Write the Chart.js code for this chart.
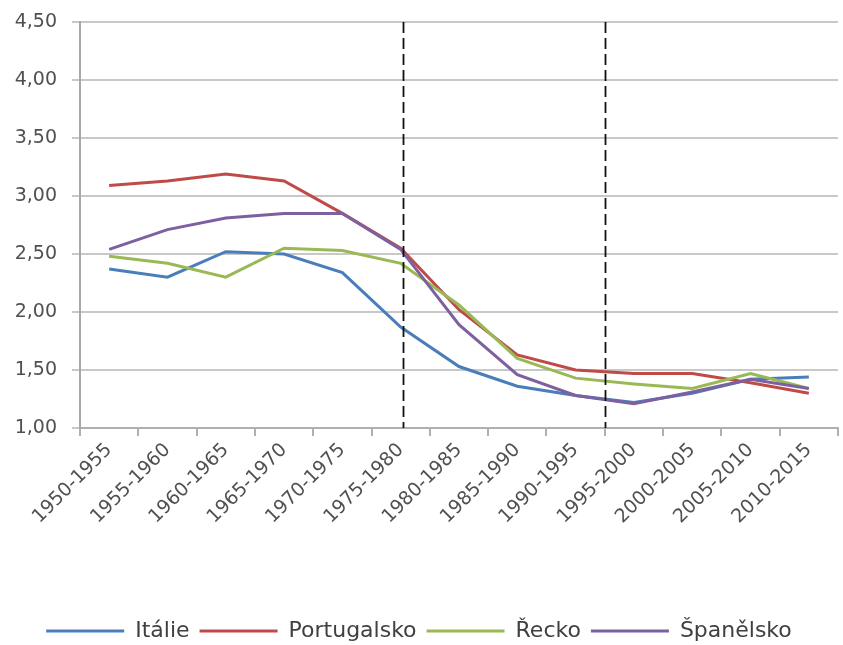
<!DOCTYPE html>
<html>
<head>
<meta charset="utf-8">
<script src="https://cdn.jsdelivr.net/npm/chart.js@4.4.1/dist/chart.umd.min.js"></script>
<style>
  html, body { margin: 0; padding: 0; background: #ffffff; }
  #wrap { width: 843px; height: 645px; }
</style>
</head>
<body>
<div id="wrap"><canvas id="c" width="843" height="645"></canvas></div>
<script>
const categories = ['1950-1955','1955-1960','1960-1965','1965-1970','1970-1975','1975-1980','1980-1985','1985-1990','1990-1995','1995-2000','2000-2005','2005-2010','2010-2015'];
const italie      = [2.37, 2.30, 2.52, 2.50, 2.34, 1.87, 1.53, 1.36, 1.28, 1.22, 1.30, 1.42, 1.44];
const portugalsko = [3.09, 3.13, 3.19, 3.13, 2.85, 2.55, 2.02, 1.63, 1.50, 1.47, 1.47, 1.39, 1.30];
const recko       = [2.48, 2.42, 2.30, 2.55, 2.53, 2.42, 2.06, 1.60, 1.43, 1.38, 1.34, 1.47, 1.34];
const spanelsko   = [2.54, 2.71, 2.81, 2.85, 2.85, 2.54, 1.89, 1.46, 1.28, 1.21, 1.31, 1.42, 1.34];
const seriesNames = ['Itálie', 'Portugalsko', 'Řecko', 'Španělsko'];
const yTicks = [1.00, 1.50, 2.00, 2.50, 3.00, 3.50, 4.00, 4.50];
const dividerPositions = [5.04, 8.5];

const colors = ['#4A7EBB', '#BE4B48', '#98B954', '#7D60A0'];
const FONT = "'DejaVu Sans', 'Open Sans', sans-serif";

const dividerPlugin = {
  id: 'dividers',
  afterDatasetsDraw(chart) {
    const x = chart.scales.x, area = chart.chartArea, ctx = chart.ctx;
    ctx.save();
    ctx.strokeStyle = '#111111';
    ctx.lineWidth = 1.8;
    ctx.setLineDash([11, 5]);
    dividerPositions.forEach(p => {
      const px = Math.round(x.getPixelForValue(p)) + 0.5;
      ctx.beginPath();
      ctx.moveTo(px, area.top);
      ctx.lineTo(px, area.bottom);
      ctx.stroke();
    });
    ctx.restore();
  }
};

const allSeries = [italie, portugalsko, recko, spanelsko];
const datasets = allSeries.map((d, i) => ({
  label: seriesNames[i],
  data: d,
  borderColor: colors[i],
  backgroundColor: colors[i],
  borderWidth: 3,
  pointRadius: 0,
  tension: 0,
  fill: false,
  order: allSeries.length - i
}));

new Chart(document.getElementById('c'), {
  type: 'line',
  data: { labels: categories, datasets },
  plugins: [dividerPlugin],
  options: {
    responsive: false,
    animation: false,
    devicePixelRatio: 1,
    layout: { padding: { top: 22, right: 5, left: 0, bottom: -7 } },
    plugins: {
      tooltip: { enabled: false },
      legend: {
        position: 'bottom',
        labels: {
          usePointStyle: true,
          pointStyle: 'line',
          pointStyleWidth: 78,
          boxWidth: 78,
          padding: 10,
          color: '#404040',
          font: { family: FONT, size: 22 },
          sort: (a, b) => a.datasetIndex - b.datasetIndex
        }
      }
    },
    scales: {
      x: {
        type: 'category',
        offset: true,
        grid: { offset: true, drawOnChartArea: false, drawTicks: true, tickLength: 8, color: '#b0b0b0', lineWidth: 2 },
        border: { display: true, color: '#b0b0b0', width: 2 },
        ticks: {
          autoSkip: false,
          minRotation: 45,
          maxRotation: 45,
          padding: 3,
          color: '#505050',
          font: { family: FONT, size: 19 }
        },
        afterFit(s) {
          s.height = s.chart.height - 428 - s.chart.legend.height + 7;
        }
      },
      y: {
        min: 1,
        max: 4.5,
        afterBuildTicks(s) { s.ticks = yTicks.map(v => ({ value: v })); },
        grid: { color: '#c8c8c8', lineWidth: 2, tickLength: 8, drawTicks: true },
        border: { display: true, color: '#a8a8a8', width: 2 },
        ticks: {
          padding: 15,
          color: '#505050',
          font: { family: FONT, size: 19 },
          callback: v => Number(v).toFixed(2).replace('.', ',')
        },
        afterFit(s) { s.width = 80; s.paddingTop = 0; s.paddingBottom = 0; }
      }
    }
  }
});
</script>
</body>
</html>
